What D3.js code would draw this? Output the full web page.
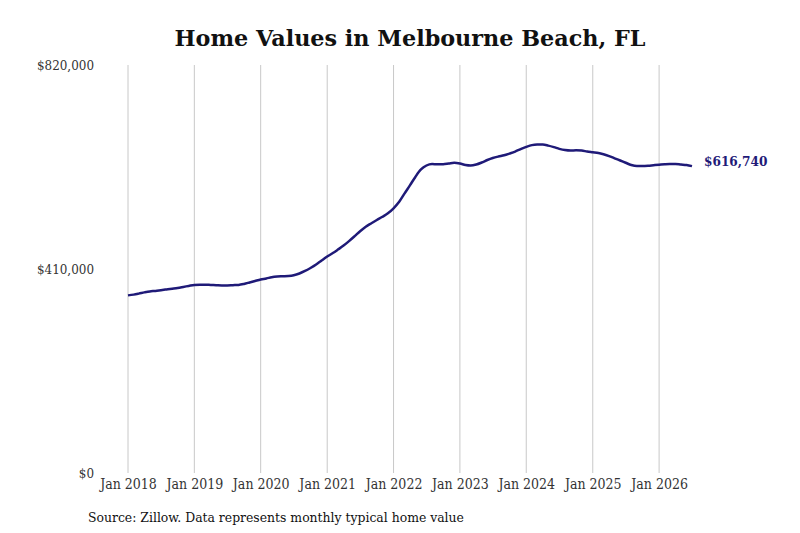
<!DOCTYPE html>
<html>
<head>
<meta charset="utf-8">
<script src="https://cdn.jsdelivr.net/npm/d3@7"></script>
<style>
  body { margin: 0; background: #fff; }
  svg { display: block; }
  .grid line { stroke: #c8c8c8; stroke-width: 1; }
  .tick text { font-family: "DejaVu Serif Condensed", "DejaVu Serif", serif; fill: #333; }
</style>
</head>
<body>
<svg width="800" height="533"></svg>
<script>
var width = 800;
var height = 533;
var margin = {left: 128, right: 108, top: 65, bottom: 60};

// monthly typical home value, Jan 2018 .. Jul 2026 (thousands of dollars)
var startYear = 2018;
var values = [
  357, 358.5, 360.5, 363, 365, 366, 367.5, 369, 370.5, 372, 374, 376,
  378, 378.5, 378.5, 378, 377.5, 377, 377, 377.5, 378, 380, 383, 386,
  389, 391, 393.5, 395, 395.5, 396, 397.5, 401, 406, 412, 419, 427,
  435, 442, 449, 457, 466, 476, 486, 495, 502, 508.5, 515, 522,
  532, 545, 561, 578, 595, 610, 618, 621, 620.5, 620.5, 622, 623.5,
  622, 619, 618, 620, 624, 629, 633, 636, 638.5, 642, 646, 651,
  655.5, 659, 660, 660, 658, 655, 651.5, 649, 648, 648.5, 648, 646,
  644.5, 643, 640.5, 637, 632.5, 628, 623.5, 619, 617, 617, 617.5, 618.5,
  619.5, 620.5, 621, 621, 620, 619, 616.74
];
var yTicks = [0, 410000, 820000];
var xTickYears = [2018, 2019, 2020, 2021, 2022, 2023, 2024, 2025, 2026];
var lastLabel = "$616,740";

var data = values.map(function (v, i) {
  return {date: new Date(startYear, i, 1), value: v * 1000};
});

var svg = d3.select('svg');

var xScale = d3.scaleTime()
  .domain([new Date(2018, 0, 1), new Date(2026, 6, 1)])
  .range([margin.left, 692]);
var yScale = d3.scaleLinear()
  .domain([0, 820000])
  .range([473, margin.top]);

// vertical gridlines at each January
svg.append('g')
  .attr('class', 'grid')
  .selectAll('line')
  .data(xTickYears)
  .enter()
  .append('line')
  .attr('x1', function (d) { return xScale(new Date(d, 0, 1)); })
  .attr('x2', function (d) { return xScale(new Date(d, 0, 1)); })
  .attr('y1', yScale(820000))
  .attr('y2', yScale(0));

// x axis labels
var axisBottom = d3.axisBottom(xScale)
  .tickValues(xTickYears.map(function (d) { return new Date(d, 0, 1); }))
  .tickFormat(d3.timeFormat('Jan %Y'))
  .tickSize(0)
  .tickPadding(6);

svg.append('g')
  .attr('transform', 'translate(0,' + 473 + ')')
  .call(axisBottom)
  .call(function (g) { g.select('.domain').remove(); })
  .selectAll('text')
  .style('font-size', '14px');

// y axis labels
var axisLeft = d3.axisLeft(yScale)
  .tickValues(yTicks)
  .tickFormat(function (d) { return '$' + d3.format(',')(d); })
  .tickSize(0)
  .tickPadding(34);

svg.append('g')
  .attr('transform', 'translate(' + margin.left + ',0)')
  .call(axisLeft)
  .call(function (g) { g.select('.domain').remove(); })
  .selectAll('text')
  .style('font-size', '13.3px');

// the line
var line = d3.line()
  .x(function (d) { return xScale(d.date); })
  .y(function (d) { return yScale(d.value); })
  .curve(d3.curveMonotoneX);

svg.append('path')
  .datum(data)
  .attr('fill', 'none')
  .attr('stroke', '#1f1a78')
  .attr('stroke-width', 2.5)
  .attr('stroke-linejoin', 'round')
  .attr('d', line);

// last value label
var last = data[data.length - 1];
svg.append('text')
  .attr('x', xScale(last.date) + 12)
  .attr('y', yScale(last.value) - 5)
  .attr('dy', '0.35em')
  .style('font-family', '"DejaVu Serif Condensed", "DejaVu Serif", serif')
  .style('font-weight', 'bold')
  .style('font-size', '13.5px')
  .style('fill', '#1f1a78')
  .text(lastLabel);

// title
svg.append('text')
  .attr('x', 410)
  .attr('y', 46)
  .style('text-anchor', 'middle')
  .style('font-family', '"DejaVu Serif", serif')
  .style('font-weight', 'bold')
  .style('font-size', '22.3px')
  .style('fill', '#111')
  .text('Home Values in Melbourne Beach, FL');

// source note
svg.append('text')
  .attr('x', 88)
  .attr('y', 522)
  .style('font-family', '"DejaVu Serif Condensed", "DejaVu Serif", serif')
  .style('font-size', '13.8px')
  .style('fill', '#111')
  .text('Source: Zillow. Data represents monthly typical home value');
</script>
</body>
</html>
